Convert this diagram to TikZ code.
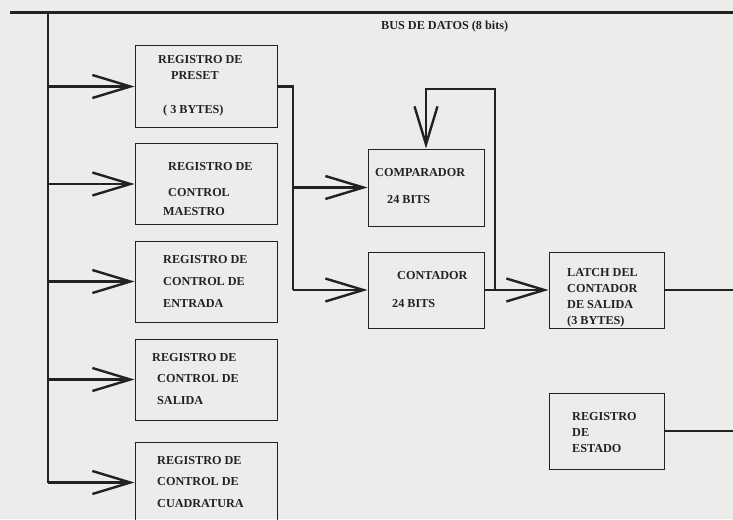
\documentclass[tikz,border=0pt]{standalone}
\usepackage{fontspec}
\setmainfont{Liberation Serif}
\usetikzlibrary{arrows.meta}

\definecolor{paper}{RGB}{236,236,234}
\definecolor{ink}{RGB}{34,34,34}

\tikzset{
  regbox/.style={draw=ink, line width=1pt, minimum width=142pt, minimum height=81pt, inner sep=0pt},
  smallbox/.style={regbox, minimum width=116pt, minimum height=77pt},
  txt/.style={align=left, anchor=base west, inner sep=0pt, text=ink, font=\bfseries\fontsize{12.2}{21}\selectfont},
  bus/.style={draw=ink, line width=3pt},
  wire/.style={draw=ink, line width=2.4pt},
  flow/.style={wire, -{Straight Barb[length=38pt, width=23pt, line width=2.4pt]}}
}

\begin{document}
\begin{tikzpicture}[x=1pt, y=-1pt]
    \useasboundingbox (0,0) rectangle (733,519);
    \fill[paper] (0,0) rectangle (733,519);
    \clip (0,0) rectangle (733,519);

    % data bus
    \coordinate (busl) at (10,13);
    \coordinate (busr) at (733,13);
    \coordinate (bustop) at (48,13);
    \draw[bus] (busl) -- (busr);
    \node[txt] (buslbl) at (381,30) {BUS DE DATOS (8 bits)};

    % registers on the bus
    \node[regbox] (b1) at (206,86.5) {};
    \node[regbox] (b2) at (206,184) {};
    \node[regbox] (b3) at (206,281.5) {};
    \node[regbox] (b4) at (206,379.5) {};
    \node[regbox] (b5) at (206,482.5) {};

    % text nodes sit on the baseline of their last line
    \node[txt] (t1) at (158,113) {REGISTRO DE\\[-5pt]\hspace*{13pt}PRESET\\[13pt]\hspace*{5pt}( 3 BYTES)};
    \node[txt] (t2) at (163,215) {\hspace*{5pt}REGISTRO DE\\[5pt]\hspace*{5pt}CONTROL\\[-2pt]MAESTRO};
    \node[txt] (t3) at (163,307) {REGISTRO DE\\[1pt]CONTROL DE\\[1pt]ENTRADA};
    \node[txt] (t4) at (152,404) {REGISTRO DE\\\hspace*{5pt}CONTROL DE\\[1pt]\hspace*{5pt}SALIDA};
    \node[txt] (t5) at (157,507) {REGISTRO DE\\CONTROL DE\\[1pt]CUADRATURA};

    \draw[wire] (bustop) -- (bustop |- b5.west);
    \draw[flow] (bustop |- b1.west) -- (b1.west);
    \draw[flow] (bustop |- b2.west) -- (b2.west);
    \draw[flow] (bustop |- b3.west) -- (b3.west);
    \draw[flow] (bustop |- b4.west) -- (b4.west);
    \draw[flow] (bustop |- b5.west) -- (b5.west);

    % comparator and counter
    \node[smallbox] (cmp) at (426,187.5) {};
    \node[smallbox, minimum height=76pt] (cnt) at (426,290) {};
    \node[txt] (tcmp) at (375,203) {COMPARADOR\\[6pt]\hspace*{12pt}24 BITS};
    \node[txt] (tcnt) at (392,307) {\hspace*{5pt}CONTADOR\\[7pt]24 BITS};

    \coordinate (jn) at (293,290);
    \draw[wire] (b1.east) -| (jn);
    \draw[flow] (jn |- cmp.west) -- (cmp.west);
    \draw[flow] (jn) -- (cnt.west);

    % feedback to comparator
    \coordinate (fb) at (495,290);
    \coordinate (fbtop) at (495,89);
    \draw[flow] (fb) -- (fbtop) -| (cmp.north);

    % output latch and status register
    \node[smallbox, minimum width=115pt, minimum height=76pt] (lat) at (606.5,290) {};
    \node[smallbox, minimum width=115pt, minimum height=76pt] (est) at (606.5,431) {};
    \node[txt] (tlat) at (567,324) {LATCH DEL\\[-5pt]CONTADOR\\[-5pt]DE SALIDA\\[-5pt](3 BYTES)};
    \node[txt] (test) at (572,452) {REGISTRO\\[-5pt]DE\\[-5pt]ESTADO};

    \draw[flow] (cnt.east) -- (lat.west);
    \coordinate (out1) at (733,290);
    \coordinate (out2) at (733,431);
    \draw[wire] (lat.east) -- (out1);
    \draw[wire] (est.east) -- (out2);
\end{tikzpicture}
\end{document}
